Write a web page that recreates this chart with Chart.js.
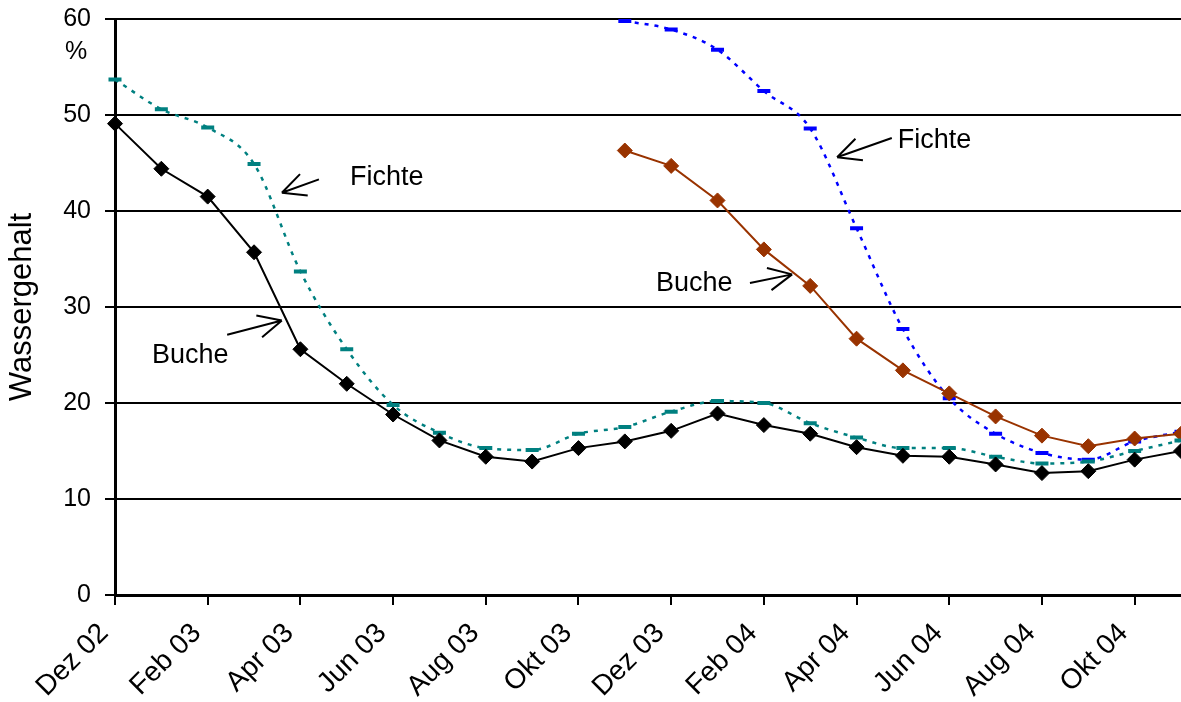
<!DOCTYPE html>
<html>
<head>
<meta charset="utf-8">
<script src="https://cdn.jsdelivr.net/npm/chart.js@4/dist/chart.umd.min.js"></script>
<style>
  html, body { margin: 0; padding: 0; background: #fff; }
  #wrap { width: 1181px; height: 702px; }
</style>
</head>
<body>
<div id="wrap"><canvas id="wasser-chart"></canvas></div>
<script>
const months = ['Dez 02', 'Jan 03', 'Feb 03', 'Mär 03', 'Apr 03', 'Mai 03', 'Jun 03', 'Jul 03', 'Aug 03', 'Sep 03', 'Okt 03', 'Nov 03',
                'Dez 03', 'Jan 04', 'Feb 04', 'Mär 04', 'Apr 04', 'Mai 04', 'Jun 04', 'Jul 04', 'Aug 04', 'Sep 04', 'Okt 04', 'Nov 04'];
const yTicks = [0, 10, 20, 30, 40, 50, 60];

// Winter 02/03
const buche1 = [49.1, 44.4, 41.5, 35.7, 25.6, 22.0, 18.8, 16.1, 14.4, 13.9, 15.3, 16.0,
                17.1, 18.9, 17.7, 16.8, 15.4, 14.5, 14.4, 13.6, 12.7, 12.9, 14.1, 15.0];
const fichte1 = [53.7, 50.6, 48.7, 44.9, 33.7, 25.6, 19.8, 16.9, 15.3, 15.1, 16.8, 17.5,
                 19.1, 20.2, 20.0, 17.9, 16.4, 15.3, 15.3, 14.4, 13.7, 13.9, 15.0, 16.1];
// Winter 03/04
const buche2 = [null, null, null, null, null, null, null, null, null, null, null, 46.3,
                44.7, 41.1, 36.0, 32.2, 26.7, 23.4, 21.0, 18.6, 16.6, 15.5, 16.3, 16.8];
const fichte2 = [null, null, null, null, null, null, null, null, null, null, null, 59.8,
                 58.9, 56.8, 52.5, 48.6, 38.2, 27.7, 20.5, 16.8, 14.8, 14.1, 16.0, 17.0];

// labels with arrows: text pos, arrow tail, arrow tip (category index, value)
const notes = [
    { text: 'Fichte', at: [5.07, 43.5], from: [4.40, 43.3], to: [3.60, 41.9] },
    { text: 'Buche', at: [0.80, 24.9], from: [2.42, 27.1], to: [3.60, 28.6] },
    { text: 'Buche', at: [11.67, 32.4], from: [13.70, 32.5], to: [14.61, 33.4] },
    { text: 'Fichte', at: [16.89, 47.3], from: [16.76, 47.6], to: [15.58, 45.6] }
];

const FONT = '"Liberation Sans", Arial, sans-serif';

const notesPlugin = {
    id: 'notes',
    afterDatasetsDraw(chart) {
        const ctx = chart.ctx;
        const xs = chart.scales.x, ys = chart.scales.y;
        ctx.save();
        ctx.fillStyle = '#000';
        ctx.strokeStyle = '#000';
        ctx.lineWidth = 2;
        ctx.font = '27px ' + FONT;
        ctx.textAlign = 'left';
        ctx.textBaseline = 'middle';
        notes.forEach(n => {
            ctx.fillText(n.text, xs.getPixelForValue(n.at[0]), ys.getPixelForValue(n.at[1]));
            const x1 = xs.getPixelForValue(n.from[0]), y1 = ys.getPixelForValue(n.from[1]);
            const x2 = xs.getPixelForValue(n.to[0]), y2 = ys.getPixelForValue(n.to[1]);
            const ang = Math.atan2(y2 - y1, x2 - x1);
            ctx.beginPath();
            ctx.moveTo(x1, y1);
            ctx.lineTo(x2, y2);
            [0.45, -0.45].forEach(d => {
                ctx.moveTo(x2, y2);
                ctx.lineTo(x2 - 26 * Math.cos(ang + d), y2 - 26 * Math.sin(ang + d));
            });
            ctx.stroke();
        });
        // unit under the top tick
        ctx.font = '25px ' + FONT;
        ctx.textAlign = 'center';
        ctx.fillText('%', chart.chartArea.left - 39, ys.getPixelForValue(56.5));
        ctx.restore();
    }
};

new Chart(document.getElementById('wasser-chart'), {
    type: 'line',
    data: {
        labels: months,
        datasets: [
            {
                label: 'Buche 02/03',
                data: buche1,
                borderColor: '#000000',
                backgroundColor: '#000000',
                borderWidth: 2,
                pointStyle: 'rectRot',
                pointRadius: 7.5,
                pointBorderWidth: 1
            },
            {
                label: 'Fichte 02/03',
                data: fichte1,
                borderColor: '#008080',
                backgroundColor: '#008080',
                borderWidth: 2.5,
                borderDash: [4, 6],
                cubicInterpolationMode: 'monotone',
                pointStyle: 'line',
                pointRadius: 6.5,
                pointBorderWidth: 4
            },
            {
                label: 'Buche 03/04',
                data: buche2,
                borderColor: '#993300',
                backgroundColor: '#993300',
                borderWidth: 2,
                pointStyle: 'rectRot',
                pointRadius: 7.5,
                pointBorderWidth: 1
            },
            {
                label: 'Fichte 03/04',
                data: fichte2,
                borderColor: '#0000ff',
                backgroundColor: '#0000ff',
                borderWidth: 2.5,
                borderDash: [4, 6],
                cubicInterpolationMode: 'monotone',
                pointStyle: 'line',
                pointRadius: 6.5,
                pointBorderWidth: 4
            }
        ]
    },
    options: {
        responsive: true,
        maintainAspectRatio: false,
        animation: false,
        spanGaps: false,
        layout: { autoPadding: false, padding: { top: 19, right: 0, bottom: 0, left: 0 } },
        plugins: {
            legend: { display: false },
            tooltip: { enabled: false }
        },
        scales: {
            x: {
                offset: false,
                grid: {
                    drawOnChartArea: false,
                    drawTicks: true,
                    tickLength: 10,
                    lineWidth: 2,
                    offset: false,
                    color: c => (c.index % 2 === 0 ? '#000' : 'rgba(0,0,0,0)')
                },
                border: { color: '#000', width: 3 },
                ticks: {
                    autoSkip: false,
                    maxRotation: 45,
                    minRotation: 45,
                    padding: 12,
                    labelOffset: -11,
                    color: '#000',
                    font: { family: FONT, size: 28 },
                    callback: function (v, i) { return i % 2 === 0 ? this.getLabelForValue(v) : ''; }
                },
                afterFit: s => { s.height = 107; s.paddingRight = 0; s.paddingLeft = 0; }
            },
            y: {
                min: 0,
                max: 60,
                afterBuildTicks: s => { s.ticks = yTicks.map(v => ({ value: v })); },
                grid: {
                    color: '#000',
                    lineWidth: 2,
                    tickLength: 10
                },
                border: { color: '#000', width: 3 },
                ticks: {
                    padding: 14,
                    color: '#000',
                    font: { family: FONT, size: 25 }
                },
                title: {
                    display: true,
                    text: 'Wassergehalt',
                    color: '#000',
                    font: { family: FONT, size: 31 },
                    padding: { top: 4, bottom: 0 }
                },
                afterFit: s => { s.width = 115; s.paddingTop = 0; s.paddingBottom = 0; }
            }
        }
    },
    plugins: [notesPlugin]
});
</script>
</body>
</html>
